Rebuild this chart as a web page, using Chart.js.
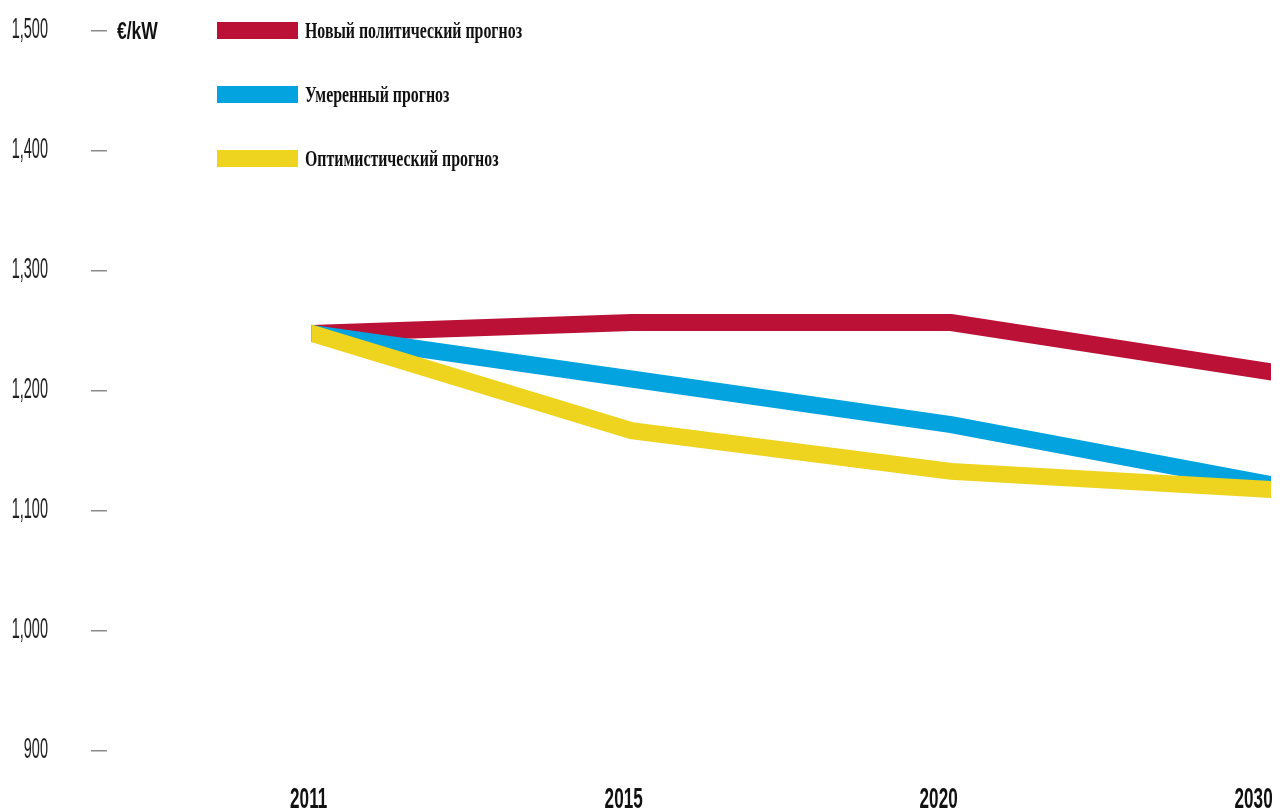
<!DOCTYPE html>
<html>
<head>
<meta charset="utf-8">
<title>€/kW</title>
<script src="https://cdn.jsdelivr.net/npm/chart.js@4.4.1/dist/chart.umd.min.js"></script>
<style>
  html, body { margin: 0; padding: 0; background: #ffffff; overflow: hidden; }
  canvas { display: block; }
</style>
</head>
<body>
<canvas id="chart" width="1287" height="812"></canvas>
<script>
// Capital cost outlook, €/kW
const years = ['2011', '2015', '2020', '2030'];
const newPolicy = [1248, 1257, 1257, 1216];
const moderate = [1248, 1210, 1172, 1122];
const optimistic = [1248, 1167, 1133, 1118];
const seriesNames = ['Новый политический прогноз', 'Умеренный прогноз', 'Оптимистический прогноз'];
const seriesColors = ['#BB1137', '#02A3DF', '#EED41E'];
const yMin = 900;
const yMax = 1500;
const yStep = 100;
const unitLabel = '€/kW';

const sansFamily = "'Liberation Sans', Arial, sans-serif";
const serifFamily = "'Liberation Serif', 'DejaVu Serif', serif";

function toPoints(values) {
  return values.map((v, i) => ({ x: i, y: v }));
}

// Condensed lettering: draw text squeezed horizontally around its anchor
function narrowText(ctx, text, x, y, font, squeeze, align) {
  ctx.save();
  ctx.font = font;
  ctx.textBaseline = 'alphabetic';
  ctx.textAlign = align;
  ctx.translate(x, y);
  ctx.scale(squeeze, 1);
  ctx.fillText(text, 0, 0);
  ctx.restore();
}

function zeroPadding(scale) {
  scale.paddingLeft = 0;
  scale.paddingRight = 0;
  scale.paddingTop = 0;
  scale.paddingBottom = 0;
}

// Cut the thick bands with vertical edges at the first and last year
const bandClip = {
  id: 'bandClip',
  beforeDatasetsDraw(chart) {
    const { ctx, chartArea, scales } = chart;
    const x0 = scales.x.getPixelForValue(0);
    const x1 = scales.x.getPixelForValue(years.length - 1);
    ctx.save();
    ctx.beginPath();
    ctx.rect(x0, chartArea.top - 40, x1 - x0, chartArea.bottom - chartArea.top + 80);
    ctx.clip();
  },
  afterDatasetsDraw(chart) {
    chart.ctx.restore();
  }
};

// Axis lettering in a condensed face, placed from the scales' own ticks
const axisText = {
  id: 'axisText',
  afterDraw(chart) {
    const { ctx, scales } = chart;
    const xs = scales.x;
    const ys = scales.y;
    ctx.save();
    ctx.fillStyle = '#222222';
    ys.ticks.forEach(t => {
      const py = ys.getPixelForValue(t.value);
      narrowText(ctx, t.label, ys.right - 59, py + 7, '29px ' + sansFamily, 0.5, 'right');
    });
    ctx.fillStyle = '#111111';
    xs.ticks.forEach(t => {
      // year labels sit a touch left of their points, drifting further toward the right edge
      const px = xs.getPixelForValue(t.value * 0.985) - 3;
      narrowText(ctx, t.label, px, xs.top + 57, 'bold 29px ' + sansFamily, 0.59, 'center');
    });
    ctx.restore();
  }
};

// Unit label and the key in the upper left
const keyAndUnit = {
  id: 'keyAndUnit',
  afterDraw(chart) {
    const { ctx, chartArea } = chart;
    ctx.save();
    ctx.fillStyle = '#111111';
    narrowText(ctx, unitLabel, chartArea.left + 10, chartArea.top + 8, 'bold 23px ' + sansFamily, 0.76, 'left');

    const swX = chartArea.left + 110;
    const swW = 81;
    const swH = 17;
    const rowGap = 64;
    seriesNames.forEach((name, i) => {
      const cy = chartArea.top + i * rowGap - 0.5;
      ctx.fillStyle = seriesColors[i];
      ctx.fillRect(swX, cy - swH / 2, swW, swH);
      ctx.fillStyle = '#111111';
      narrowText(ctx, name, swX + swW + 7, cy + 7.5, 'bold 23px ' + serifFamily, 0.69, 'left');
    });
    ctx.restore();
  }
};

const data = {
  datasets: [
    { label: seriesNames[0], data: toPoints(newPolicy), borderColor: seriesColors[0], order: 3 },
    { label: seriesNames[1], data: toPoints(moderate), borderColor: seriesColors[1], order: 2 },
    { label: seriesNames[2], data: toPoints(optimistic), borderColor: seriesColors[2], order: 1 }
  ].map(ds => Object.assign(ds, {
    borderWidth: 17,
    borderCapStyle: 'square',
    borderJoinStyle: 'miter',
    pointRadius: 0,
    pointHoverRadius: 0,
    tension: 0,
    fill: false,
    clip: false
  }))
};

new Chart(document.getElementById('chart'), {
  type: 'line',
  data,
  plugins: [bandClip, axisText, keyAndUnit],
  options: {
    responsive: false,
    animation: false,
    devicePixelRatio: 1,
    layout: { padding: { left: 0, right: 16, top: 31, bottom: 0 } },
    plugins: {
      legend: { display: false },
      tooltip: { enabled: false }
    },
    scales: {
      x: {
        type: 'linear',
        min: -0.64,
        max: years.length - 1,
        grid: { display: false, drawTicks: false },
        border: { display: false },
        afterBuildTicks(scale) {
          scale.ticks = scale.ticks.filter(t => Number.isInteger(t.value));
        },
        afterFit(scale) {
          scale.height = 61;
          zeroPadding(scale);
        },
        ticks: {
          display: false,
          stepSize: 1,
          autoSkip: false,
          callback: v => years[v]
        }
      },
      y: {
        min: yMin,
        max: yMax,
        grid: {
          drawOnChartArea: false,
          drawTicks: true,
          tickLength: 16,
          color: '#8a8a8a',
          lineWidth: 1.5
        },
        border: { display: false },
        afterFit(scale) {
          scale.width = 107;
          zeroPadding(scale);
        },
        ticks: {
          display: false,
          stepSize: yStep,
          callback: v => v.toLocaleString('en-US')
        }
      }
    }
  }
});
</script>
</body>
</html>
